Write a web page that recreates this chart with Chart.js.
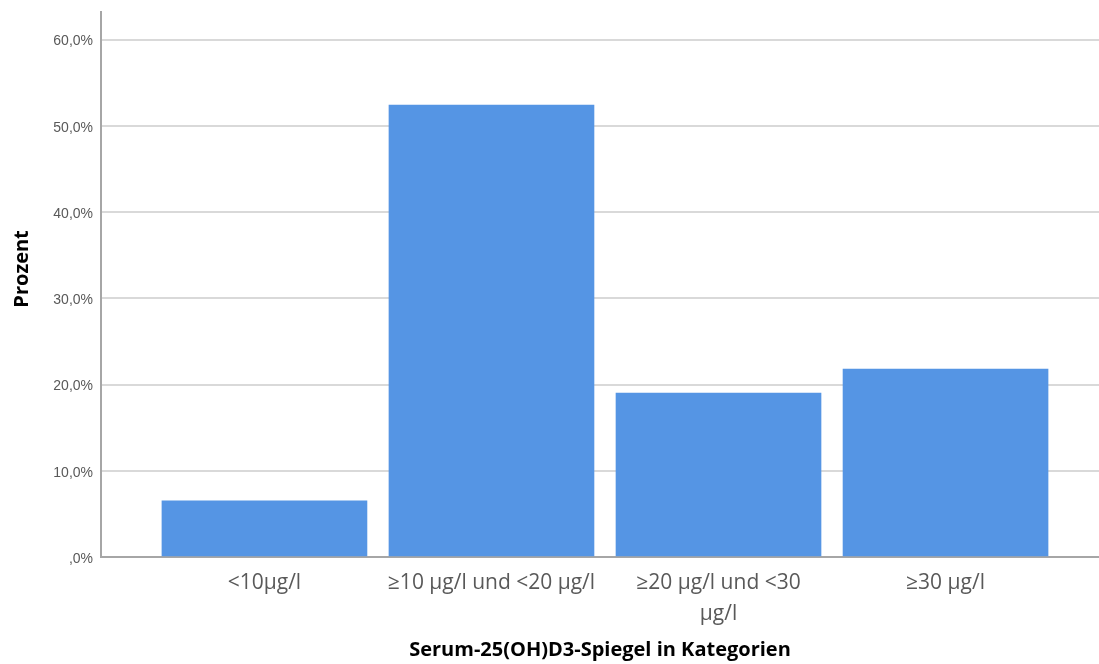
<!DOCTYPE html>
<html>
<head>
<meta charset="utf-8">
<script src="https://cdn.jsdelivr.net/npm/chart.js@4"></script>
<style>
  html, body { margin: 0; padding: 0; background: #fff; }
  #wrap { width: 1099px; height: 664px; }
</style>
</head>
<body>
<div id="wrap"><canvas id="chart" width="1099" height="664"></canvas></div>
<script>
// categories (wrapped the way the picture shows them)
var categories = [
    ["<10µg/l"],
    ["≥10 µg/l und <20 µg/l"],
    ["≥20 µg/l und <30", "µg/l"],
    ["≥30 µg/l"]
];
var percentValues = [6.5, 52.4, 19.0, 21.8];
var yTicks = [0, 10, 20, 30, 40, 50, 60];

var xTitle = "Serum-25(OH)D3-Spiegel in Kategorien";
var yTitle = "Prozent";

var barColor = "#5595e4";
var gridColor = "#d9d9d9";
var axisColor = "#a6a6a6";

function formatPercent(v) {
    // SPSS style: comma decimal, no leading zero
    if (v === 0) return ",0%";
    return v.toFixed(1).replace(".", ",") + "%";
}

var points = [];
for (var i = 0; i < percentValues.length; i++) {
    points.push({ x: i, y: percentValues[i] });
}

new Chart(document.getElementById("chart"), {
    type: "bar",
    data: {
        datasets: [{
            data: points,
            backgroundColor: barColor,
            borderWidth: 0,
            barThickness: 205
        }]
    },
    options: {
        responsive: false,
        animation: false,
        layout: { padding: { top: 12, right: 0, left: 0, bottom: 0 } },
        plugins: {
            legend: { display: false },
            tooltip: { enabled: false }
        },
        scales: {
            x: {
                type: "linear",
                offset: false,
                min: -0.72,
                max: 3.676,
                afterBuildTicks: function(scale) {
                    scale.ticks = categories.map(function(c, idx) { return { value: idx }; });
                },
                afterFit: function(scale) { scale.height = 107; },
                grid: { display: false, drawTicks: false },
                border: { display: true, color: axisColor, width: 2 },
                ticks: {
                    autoSkip: false,
                    maxRotation: 0,
                    padding: 10,
                    color: "#595959",
                    font: { family: "Open Sans", size: 21, lineHeight: 1.5 },
                    callback: function(value) { return categories[value]; }
                },
                title: {
                    display: true,
                    text: xTitle,
                    color: "#000",
                    font: { family: "Open Sans", size: 20, weight: "bold" },
                    padding: { top: 4, bottom: 2 }
                }
            },
            y: {
                min: 0,
                max: 63.2,
                afterBuildTicks: function(scale) {
                    scale.ticks = yTicks.map(function(v) { return { value: v }; });
                },
                afterFit: function(scale) { scale.width = 101; },
                grid: { color: gridColor, lineWidth: 2, drawTicks: false },
                border: { display: true, color: axisColor, width: 2 },
                ticks: {
                    padding: 8,
                    labelOffset: 2,
                    color: "#595959",
                    // small line height so the labels do not push the plot down
                    font: { family: "Liberation Sans", size: 14, lineHeight: 0.5 },
                    callback: function(value) { return formatPercent(value); }
                },
                title: {
                    display: true,
                    // leading spaces lift the rotated title a little, as in the picture
                    text: "      " + yTitle,
                    color: "#000",
                    font: { family: "Open Sans", size: 20, weight: "bold" },
                    padding: { top: 10, bottom: 4 }
                }
            }
        }
    }
});
</script>
</body>
</html>
